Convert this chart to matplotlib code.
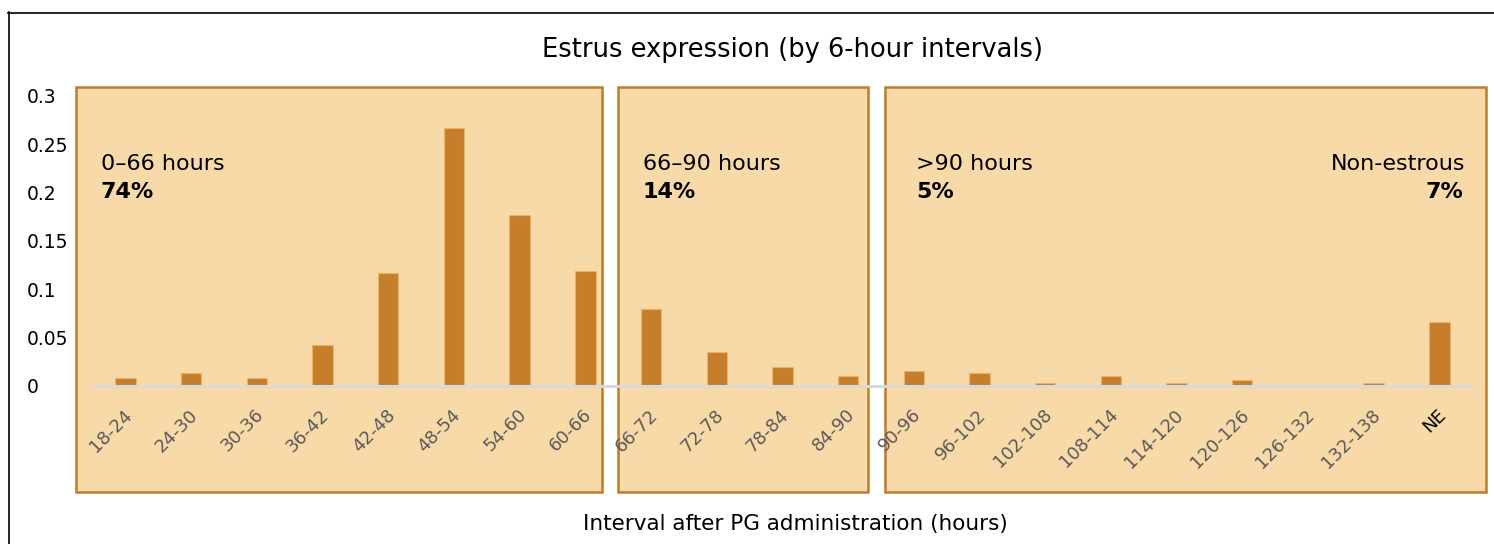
import matplotlib.pyplot as plt
import numpy as np
from matplotlib.patches import Rectangle
from matplotlib.lines import Line2D

intervals = ['18-24', '24-30', '30-36', '36-42', '42-48', '48-54', '54-60', '60-66',
             '66-72', '72-78', '78-84', '84-90',
             '90-96', '96-102', '102-108', '108-114', '114-120', '120-126', '126-132', '132-138', 'NE']
share = [0.008, 0.013, 0.008, 0.042, 0.117, 0.267, 0.177, 0.119,
         0.080, 0.035, 0.020, 0.010,
         0.015, 0.013, 0.003, 0.010, 0.003, 0.006, 0.0, 0.003, 0.066]
yticks = [0, 0.05, 0.1, 0.15, 0.2, 0.25, 0.3]
ytick_labels = ['0', '0.05', '0.1', '0.15', '0.2', '0.25', '0.3']
panel_names = ['0–66 hours', '66–90 hours', '>90 hours', 'Non-estrous']
panel_pcts = ['74%', '14%', '5%', '7%']

W, H = 1494, 544
fig = plt.figure(figsize=(W / 100, H / 100), dpi=100)
ax = fig.add_axes([76 / W, 52 / H, 1410 / W, 405 / H])
ax.set_xlim(-0.753, 20.71)
ax.set_ylim(-0.1097, 0.3093)

# shaded panels
fill = '#F8DAA9'
edge = '#B97E2E'
for x0, x1 in [(-0.753, 7.25), (7.50, 11.30), (11.56, 20.71)]:
    ax.add_patch(Rectangle((x0, -0.1097), x1 - x0, 0.419, facecolor=fill, edgecolor=edge,
                           linewidth=1.8, clip_on=False, zorder=1))

x = np.arange(len(intervals))
ax.bar(x, share, width=0.31, color='#C67E2B', edgecolor='#E9B46A', linewidth=0.8, zorder=3)
ax.plot([-0.5, len(intervals) - 0.5], [0, 0], color='#D9D9D9', lw=2.2, zorder=4)

for i, lab in enumerate(intervals):
    ax.text(i + 0.06, -0.027, lab, rotation=45, rotation_mode='anchor', ha='right', va='center',
            fontsize=13, color='black' if lab == 'NE' else '#5a5a5a',
            family='DejaVu Sans', zorder=5)

ax.set_xticks([])
ax.set_yticks(yticks, ytick_labels)
ax.tick_params(axis='y', length=0, pad=35.3, labelsize=13.5)
for t in ax.get_yticklabels():
    t.set_ha('left')
    t.set_family('DejaVu Sans')
for s in ax.spines.values():
    s.set_visible(False)

txt = dict(fontsize=16, family='DejaVu Sans', color='black', va='center', zorder=5)
ax.text(-0.373, 0.2297, panel_names[0], ha='left', **txt)
ax.text(-0.373, 0.2007, panel_pcts[0], ha='left', weight='bold', **txt)
ax.text(7.877, 0.2297, panel_names[1], ha='left', **txt)
ax.text(7.877, 0.2007, panel_pcts[1], ha='left', weight='bold', **txt)
ax.text(12.03, 0.2297, panel_names[2], ha='left', **txt)
ax.text(12.03, 0.2007, panel_pcts[2], ha='left', weight='bold', **txt)
ax.text(20.39, 0.2297, panel_names[3], ha='right', **txt)
ax.text(20.36, 0.2007, panel_pcts[3], ha='right', weight='bold', **txt)

fig.text(792 / W, 1 - 50 / H, 'Estrus expression (by 6-hour intervals)', ha='center', va='center',
         fontsize=18.5, family='DejaVu Sans')
fig.text(795 / W, 1 - 524 / H, 'Interval after PG administration (hours)', ha='center', va='center',
         fontsize=15.5, family='DejaVu Sans')

# outer frame (left and top edges)
fig.add_artist(Line2D([8.5 / W, 8.5 / W], [0, 1 - 12 / H], color='black', lw=1.2))
fig.add_artist(Line2D([8 / W, 1], [1 - 12.5 / H, 1 - 12.5 / H], color='black', lw=1.2))

plt.savefig('out.png', dpi=100)
